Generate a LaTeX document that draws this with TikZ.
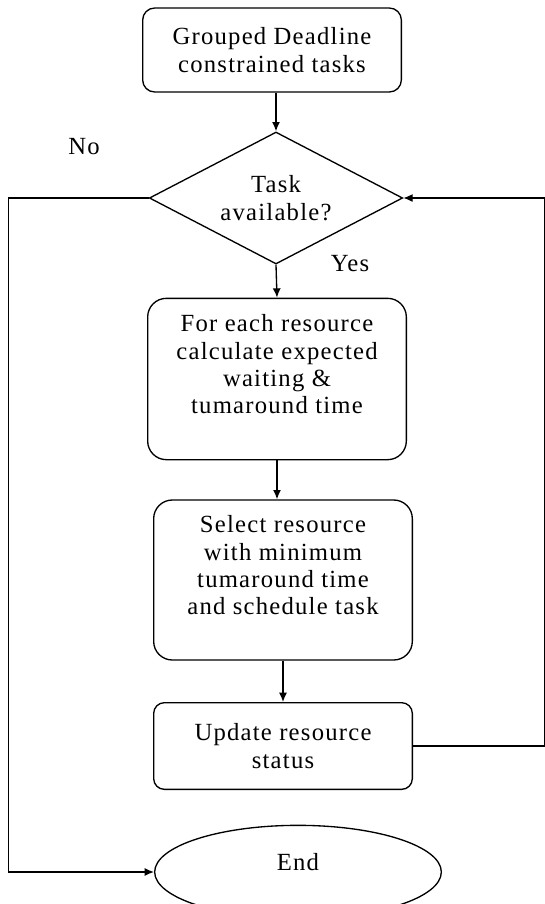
\documentclass[tikz,border=0pt]{standalone}
\usepackage{fontspec}
\setmainfont{Liberation Serif}[LetterSpace=5]
\usepackage{tikz}
\usetikzlibrary{positioning,arrows.meta,shapes.geometric}

\begin{document}
\begin{tikzpicture}[x=0.75pt,y=-0.75pt,line width=1pt,
  font=\fontsize{18.5}{20.5}\selectfont,
  box/.style={draw, rounded corners=14pt, align=center, minimum width=194pt},
  arr/.style={-{Latex[length=7pt,width=6pt]}}]
\useasboundingbox (0,0) rectangle (545,904);
\node[box, rounded corners=9pt, minimum height=63pt] (grp) at (272,50) {Grouped Deadline\\constrained tasks};
\node[draw, diamond, aspect=2, align=center, minimum width=190pt, minimum height=99pt, inner sep=0pt] (avail) at (276,198) {Task\\available?};
\node[box, minimum height=121pt, text depth=22pt] (calc) at (277,379) {For each resource\\calculate expected\\waiting \&\\tumaround time};
\node[box, minimum height=120pt, text depth=22pt] (sel) at (283,580) {Select resource\\with minimum\\tumaround time\\and schedule task};
\node[box, rounded corners=8pt, minimum height=65pt] (upd) at (283,746) {Update resource\\status};
\node[draw, ellipse, minimum width=215pt, minimum height=70pt, text depth=15pt] (endn) at (298,872) {End};
\node (no) at (84,147) {No};
\node (yes) at (350,264) {Yes};
\draw[arr] (avail.north |- grp.south) -- (avail.north);
\draw[arr] (avail.south) -- (calc.north);
\draw[arr] (calc.south) -- (calc.south |- sel.north);
\draw[arr] (sel.south) -- (upd.north);
\draw[arr] (avail.west) -- ++(-140,0) |- (endn.west);
\draw[arr] (upd.east) -- ++(132,0) |- (avail.east);
\end{tikzpicture}
\end{document}
